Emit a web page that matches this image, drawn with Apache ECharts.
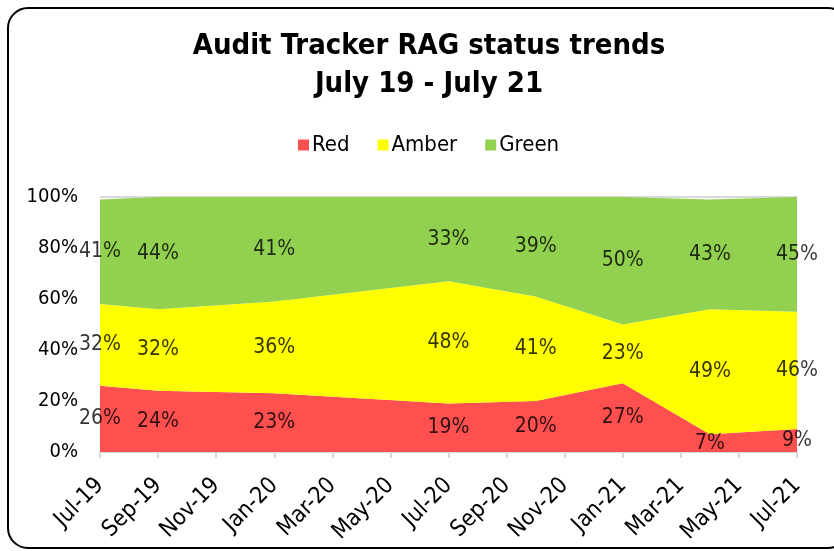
<!DOCTYPE html>
<html>
<head>
<meta charset="utf-8">
<script src="https://cdn.jsdelivr.net/npm/echarts@6/dist/echarts.min.js"></script>
<style>
html,body{margin:0;padding:0;background:#fff}
#chart{width:834px;height:551px}
</style>
</head>
<body>
<div id="chart"></div>
<script>
// months counted from Jul-19 for each reading
var monthIndex = [0, 2, 6, 12, 15, 18, 21, 24];
var redValues = [26, 24, 23, 19, 20, 27, 7, 9];
var amberValues = [32, 32, 36, 48, 41, 23, 49, 46];
var greenValues = [41, 44, 41, 33, 39, 50, 43, 45];
// x ticks every 2 months
var tickLabels = ['Jul-19', 'Sep-19', 'Nov-19', 'Jan-20', 'Mar-20', 'May-20', 'Jul-20',
                  'Sep-20', 'Nov-20', 'Jan-21', 'Mar-21', 'May-21', 'Jul-21'];
var yTicks = [0, 20, 40, 60, 80, 100];

var FONT = 'DejaVu Sans Condensed';
var colors = {Red: '#ff5050', Amber: '#ffff00', Green: '#92d050'};

// value first so that the y dimension is the one that gets stacked
function pairs(vals) {
    return vals.map(function (v, i) { return [v, monthIndex[i]]; });
}

function areaSeries(name, vals) {
    return {
        name: name,
        type: 'line',
        stack: 'rag',
        symbol: 'none',
        encode: {x: 1, y: 0},
        lineStyle: {width: 0},
        itemStyle: {color: colors[name]},
        areaStyle: {color: colors[name], opacity: 1},
        data: pairs(vals)
    };
}

// label points sit in the middle of each band
function labelSeries(vals, below) {
    return {
        type: 'scatter',
        z: 10,
        symbolSize: 1,
        itemStyle: {color: 'rgba(0,0,0,0)'},
        silent: true,
        label: {
            show: true,
            position: 'inside',
            color: '#000',
            textBorderWidth: 0,
            fontFamily: FONT,
            fontSize: 21,
            formatter: function (p) { return p.value[2] + '%'; }
        },
        data: vals.map(function (v, i) {
            return [monthIndex[i], below[i] + v / 2, v];
        })
    };
}

var zeros = redValues.map(function () { return 0; });
var redAmber = redValues.map(function (v, i) { return v + amberValues[i]; });

var myChart = echarts.init(document.getElementById('chart'));
myChart.setOption({
    animation: false,
    graphic: [{
        type: 'rect',
        silent: true,
        shape: {x: 8, y: 8, width: 840, height: 540, r: 20},
        style: {fill: 'none', stroke: '#000', lineWidth: 2}
    }],
    title: {
        text: 'Audit Tracker RAG status trends\nJuly 19 - July 21',
        left: 424,
        textAlign: 'center',
        top: 22,
        textStyle: {fontFamily: FONT, fontSize: 29, fontWeight: 'bold', color: '#000', lineHeight: 38}
    },
    legend: {
        data: ['Red', 'Amber', 'Green'],
        top: 129,
        left: 293,
        itemWidth: 11,
        itemHeight: 11,
        itemGap: 28,
        itemStyle: {borderWidth: 0},
        icon: 'rect',
        textStyle: {fontFamily: FONT, fontSize: 22, color: '#000', padding: [0, 0, 0, -2]}
    },
    grid: {left: 100, right: 37, top: 197, bottom: 99, containLabel: false},
    xAxis: {
        type: 'value',
        min: 0,
        max: 24,
        interval: 2,
        axisLine: {show: true, lineStyle: {color: '#d9d9d9', width: 2}},
        axisTick: {show: true, length: 6, lineStyle: {color: '#d9d9d9', width: 2}},
        splitLine: {show: false},
        axisLabel: {
            rotate: 45,
            margin: 30,
            color: '#000',
            fontFamily: FONT,
            fontSize: 23,
            formatter: function (v) { return tickLabels[v / 2]; }
        }
    },
    yAxis: {
        type: 'value',
        min: yTicks[0],
        max: yTicks[yTicks.length - 1],
        interval: 20,
        axisLine: {show: false},
        axisTick: {show: false},
        splitLine: {show: true, lineStyle: {color: '#d9d9d9', width: 2}},
        axisLabel: {
            color: '#000',
            fontFamily: FONT,
            fontSize: 20,
            margin: 22,
            formatter: '{value}%'
        }
    },
    series: [
        areaSeries('Red', redValues),
        areaSeries('Amber', amberValues),
        areaSeries('Green', greenValues),
        labelSeries(redValues, zeros),
        labelSeries(amberValues, redValues),
        labelSeries(greenValues, redAmber)
    ]
});
</script>
</body>
</html>
